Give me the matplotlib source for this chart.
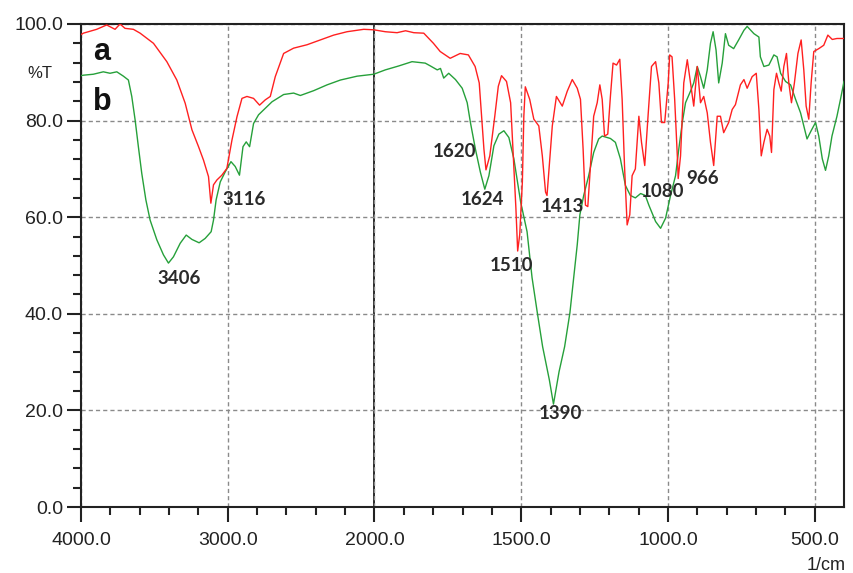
import numpy as np
import matplotlib
matplotlib.use("Agg")
import matplotlib.pyplot as plt
from matplotlib.ticker import FixedLocator, FormatStrFormatter

# ---------------- data (wavenumber in 1/cm, transmittance in %T) ----------------
wn_a = [4000, 3984, 3893, 3825, 3768, 3734, 3700, 3643, 3597, 3506, 3415, 3347, 3290, 3244,
        3199, 3165, 3131, 3115, 3097, 3074, 3040, 3006, 2971, 2937, 2903, 2869, 2824, 2783,
        2744, 2710, 2676, 2619, 2551, 2460, 2369, 2278, 2187, 2073, 2005, 1963, 1923, 1894,
        1866, 1832, 1799, 1776, 1742, 1708, 1680, 1657, 1643, 1635, 1627, 1620, 1607, 1590,
        1578, 1567, 1550, 1536, 1528, 1518, 1512, 1505, 1496, 1491, 1486, 1471, 1457, 1440,
        1428, 1417, 1412, 1406, 1394, 1380, 1360, 1343, 1326, 1309, 1298, 1289, 1281, 1273,
        1264, 1253, 1241, 1232, 1224, 1216, 1205, 1196, 1187, 1175, 1164, 1156, 1148, 1139,
        1130, 1122, 1111, 1099, 1090, 1079, 1067, 1056, 1042, 1031, 1022, 1011, 999, 994,
        986, 977, 968, 965, 957, 946, 934, 923, 912, 900, 889, 878, 866, 855, 844, 832, 821,
        810, 793, 781, 770, 753, 741, 730, 713, 699, 690, 682, 673, 662, 653, 647, 639, 630,
        622, 614, 605, 596, 588, 579, 569, 557, 546, 537, 529, 520, 512, 503, 486, 469, 455,
        440, 424, 400]
t_a = [97.8, 98.1, 98.9, 99.8, 98.9, 100.0, 99.1, 98.9, 98.1, 96.0, 92.2, 88.4, 83.6, 78.1,
       74.6, 71.8, 68.4, 62.9, 66.7, 67.7, 68.7, 70.1, 76.0, 80.8, 84.6, 85.0, 84.6, 83.2,
       84.3, 85.0, 89.1, 93.9, 95.0, 95.7, 96.7, 97.7, 98.4, 98.9, 98.8, 98.4, 98.2, 98.6,
       98.2, 98.1, 96.0, 94.3, 92.9, 93.9, 93.6, 91.2, 87.8, 80.9, 74.1, 69.8, 72.7, 80.9,
       87.1, 89.3, 88.1, 83.7, 74.1, 61.8, 53.0, 56.4, 67.3, 80.9, 87.0, 84.4, 80.3, 78.9,
       72.7, 65.2, 64.5, 69.3, 78.9, 85.0, 83.0, 86.1, 88.5, 86.7, 84.4, 74.1, 62.5, 62.2,
       70.7, 80.9, 83.7, 87.4, 84.4, 76.8, 77.2, 85.0, 91.9, 91.5, 92.7, 84.4, 70.7, 58.4,
       60.5, 68.6, 70.0, 80.9, 75.5, 70.7, 81.6, 91.2, 92.2, 87.8, 79.6, 79.6, 87.8, 93.6,
       93.2, 84.4, 72.7, 68.0, 72.7, 87.8, 92.6, 87.8, 83.0, 91.2, 83.7, 85.0, 81.6, 75.5,
       70.7, 80.9, 80.9, 77.5, 79.6, 82.3, 83.3, 87.4, 88.5, 86.7, 89.1, 89.8, 82.3, 72.7,
       75.5, 78.2, 76.8, 73.4, 86.4, 89.8, 87.8, 86.1, 91.2, 93.9, 87.8, 83.7, 87.8, 93.9,
       96.7, 90.5, 83.0, 80.3, 87.8, 94.3, 94.9, 95.6, 97.7, 96.8, 97.0, 97.0]

wn_b = [4000, 3984, 3916, 3848, 3802, 3756, 3711, 3677, 3654, 3631, 3609, 3586, 3558, 3529,
        3483, 3438, 3404, 3370, 3324, 3283, 3244, 3195, 3154, 3113, 3097, 3079, 3051, 3017,
        2978, 2949, 2920, 2896, 2874, 2851, 2824, 2790, 2756, 2698, 2619, 2551, 2505, 2414,
        2323, 2232, 2118, 2005, 1963, 1918, 1872, 1827, 1809, 1786, 1775, 1764, 1747, 1724,
        1701, 1684, 1673, 1656, 1639, 1624, 1610, 1593, 1576, 1559, 1542, 1525, 1502, 1480,
        1463, 1445, 1427, 1404, 1390, 1371, 1352, 1334, 1322, 1309, 1300, 1287, 1270, 1253,
        1236, 1224, 1196, 1179, 1162, 1145, 1128, 1111, 1093, 1077, 1065, 1042, 1025, 1008,
        991, 974, 963, 951, 940, 923, 912, 900, 889, 878, 866, 855, 846, 836, 827, 815, 804,
        793, 776, 759, 741, 730, 707, 690, 685, 673, 656, 639, 628, 616, 599, 582, 565, 548,
        537, 526, 512, 497, 486, 474, 463, 452, 441, 424, 412, 400]
t_b = [89.3, 89.4, 89.6, 90.1, 89.8, 90.1, 89.2, 88.4, 85.0, 80.1, 74.6, 69.1, 63.6, 59.4,
       55.3, 52.2, 50.5, 51.8, 54.6, 56.3, 55.4, 54.7, 55.6, 57.0, 59.4, 63.6, 67.3, 69.4,
       71.5, 70.5, 68.7, 74.6, 75.6, 74.6, 79.4, 81.2, 82.2, 83.9, 85.4, 85.7, 85.2, 86.2,
       87.4, 88.4, 89.2, 89.6, 90.5, 91.3, 92.2, 91.9, 91.3, 90.5, 90.8, 88.8, 89.8, 88.5,
       86.7, 83.7, 79.6, 74.1, 69.3, 65.8, 68.6, 74.8, 77.2, 77.9, 76.5, 72.1, 63.2, 57.0,
       47.5, 40.2, 33.2, 26.3, 21.3, 28.0, 33.2, 40.2, 47.0, 54.3, 60.5, 64.5, 68.6, 73.4,
       76.2, 76.8, 76.3, 75.5, 72.1, 66.6, 64.5, 64.0, 64.9, 64.5, 62.5, 59.1, 57.7, 59.8,
       64.5, 68.6, 74.1, 79.6, 83.7, 86.1, 87.8, 91.2, 89.1, 86.7, 90.5, 96.0, 98.4, 94.6,
       87.8, 91.9, 98.0, 95.6, 94.9, 96.7, 98.7, 99.5, 98.0, 97.3, 93.2, 91.2, 91.5, 93.6,
       93.2, 89.8, 88.1, 87.4, 84.4, 81.6, 78.9, 76.2, 77.9, 79.6, 76.8, 72.1, 69.7, 72.7,
       76.8, 80.9, 84.4, 88.1]

peak_labels = ["3406", "3116", "1620", "1624", "1510", "1413", "1390", "1080", "966"]
peak_lab_x = [3331, 2887, 1727, 1632, 1533, 1359, 1365, 1018, 882]
peak_lab_y = [47.4, 63.6, 73.5, 63.6, 49.9, 62.3, 19.3, 65.4, 68.1]

x_major = [4000, 3000, 2000, 1500, 1000, 500]
x_minor = [3800, 3600, 3400, 3200, 2800, 2600, 2400, 2200, 1900, 1800, 1700, 1600, 1400,
           1300, 1200, 1100, 900, 800, 700, 600]
y_major = [0, 20, 40, 60, 80, 100]
y_minor = [4, 8, 12, 16, 24, 28, 32, 36, 44, 48, 52, 56, 64, 68, 72, 76, 84, 88, 92, 96]


# ---------------- piecewise scale: 2x expansion below 2000 1/cm ----------------
def fwd(w):
    w = np.asarray(w, dtype=float)
    return np.where(w >= 2000, w, 2 * w - 2000)


def inv(u):
    u = np.asarray(u, dtype=float)
    return np.where(u >= 2000, u, (u + 2000) / 2)


W, H = 854, 573
fig = plt.figure(figsize=(W / 100, H / 100), dpi=100)
ax = fig.add_axes([81 / W, 1 - 507 / H, (844 - 81) / W, (507 - 24) / H])
ax.set_xscale('function', functions=(fwd, inv))
ax.set_xlim(4000, 400)
ax.set_ylim(0, 100)

ax.xaxis.set_major_locator(FixedLocator(x_major))
ax.xaxis.set_minor_locator(FixedLocator(x_minor))
ax.yaxis.set_major_locator(FixedLocator(y_major))
ax.yaxis.set_minor_locator(FixedLocator(y_minor))
ax.xaxis.set_major_formatter(FormatStrFormatter('%.1f'))
ax.yaxis.set_major_formatter(FormatStrFormatter('%.1f'))
ax.xaxis.set_minor_formatter(plt.NullFormatter())

ax.grid(True, which='major', color='#8a8a8a', lw=1.0, ls=(0, (3, 2.2)))
ax.axvline(2000, color='#1a1a1a', lw=1.3, zorder=1.5)

ax.plot(wn_b, t_b, color='#26a03a', lw=1.0, zorder=3)
ax.plot(wn_a, t_a, color='#ff2020', lw=1.0, zorder=4)

for lab, lx, ly in zip(peak_labels, peak_lab_x, peak_lab_y):
    ax.text(lx, ly, lab, ha='center', va='center', fontsize=13.5,
            family='Lato', fontweight='bold', color='#2a2a2a', zorder=5)

for s in ax.spines.values():
    s.set_linewidth(1.5)
    s.set_color('#222222')

ax.tick_params(axis='both', which='major', direction='out', width=1.5, color='#222222',
               labelsize=14, labelcolor='#222222')
ax.tick_params(axis='y', which='major', length=10, pad=3)
ax.tick_params(axis='x', which='major', length=11, pad=7)
ax.tick_params(axis='both', which='minor', direction='out', width=1.5, length=6,
               color='#222222')
for lbl in ax.get_xticklabels() + ax.get_yticklabels():
    lbl.set_family('Liberation Sans')

fig.text(93 / W, 1 - 60 / H, 'a', fontsize=22, fontweight='bold', family='Liberation Sans',
         ha='left', va='baseline', color='#111111')
fig.text(93 / W, 1 - 110 / H, 'b', fontsize=22, fontweight='bold', family='Liberation Sans',
         ha='left', va='baseline', color='#111111')
fig.text(40 / W, 1 - 74 / H, '%T', fontsize=12, family='Liberation Sans',
         ha='center', va='center', color='#222222')
fig.text(846 / W, 1 - 565 / H, '1/cm', fontsize=13, family='Liberation Sans',
         ha='right', va='center', color='#222222')

fig.savefig('out.png', dpi=100)
